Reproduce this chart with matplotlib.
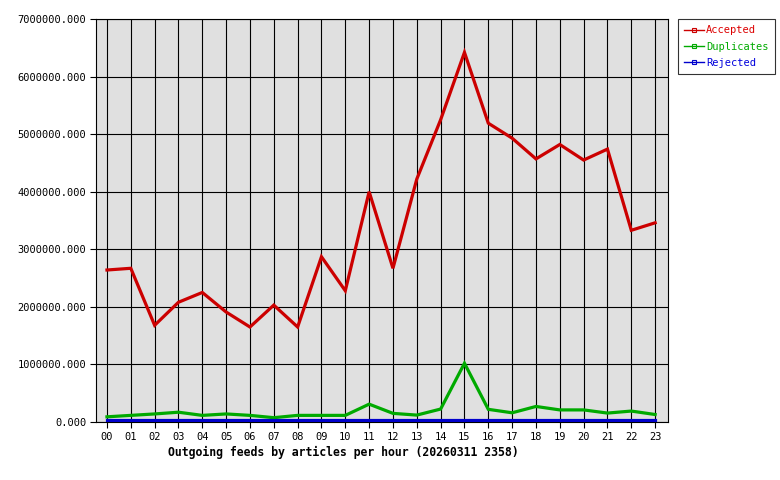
import matplotlib
matplotlib.use("Agg")
import matplotlib.pyplot as plt
from matplotlib.lines import Line2D
from matplotlib.ticker import FormatStrFormatter

hours = ["00", "01", "02", "03", "04", "05", "06", "07", "08", "09", "10", "11",
         "12", "13", "14", "15", "16", "17", "18", "19", "20", "21", "22", "23"]
accepted = [2.64e6, 2.67e6, 1.68e6, 2.08e6, 2.25e6, 1.91e6, 1.65e6, 2.03e6,
            1.65e6, 2.87e6, 2.28e6, 4.00e6, 2.67e6, 4.22e6, 5.25e6, 6.42e6,
            5.19e6, 4.93e6, 4.57e6, 4.82e6, 4.55e6, 4.74e6, 3.33e6, 3.46e6]
duplicates = [0.09e6, 0.115e6, 0.14e6, 0.17e6, 0.115e6, 0.14e6, 0.115e6, 0.075e6,
              0.115e6, 0.115e6, 0.115e6, 0.31e6, 0.15e6, 0.12e6, 0.225e6, 1.02e6,
              0.22e6, 0.16e6, 0.27e6, 0.21e6, 0.21e6, 0.155e6, 0.19e6, 0.13e6]
rejected = [0.03e6] * 24

series = [("Accepted", accepted, "#cc0000", "#dd0000"),
          ("Duplicates", duplicates, "#00aa00", "#00aa00"),
          ("Rejected", rejected, "#0000cc", "#0000dd")]

plt.rcParams["font.family"] = "DejaVu Sans Mono"

fig = plt.figure(figsize=(7.8, 4.8), dpi=100)
ax = fig.add_axes([96 / 780, 1 - 422 / 480, 572 / 780, 403 / 480])
ax.set_facecolor("#e0e0e0")

x = list(range(len(hours)))
for name, vals, col, _ in series:
    ax.plot(x, vals, color=col, lw=2.3, zorder=3, solid_joinstyle="miter")

ax.set_xlim(-0.46, 23.54)
ax.set_ylim(0, 7e6)
ax.set_xticks(x)
ax.set_xticklabels(hours)
ax.set_yticks([i * 1e6 for i in range(8)])
ax.yaxis.set_major_formatter(FormatStrFormatter("%.3f"))
ax.grid(True, color="black", lw=0.8)
ax.set_axisbelow(True)
ax.tick_params(labelsize=7.5, length=4, width=0.8, color="black", pad=3)
for sp in ax.spines.values():
    sp.set_linewidth(0.8)

# the caption is centred on the image area left of the legend, not on the axes
fig.text(343 / 780, 1 - 452 / 480,
         "Outgoing feeds by articles per hour (20260311 2358)",
         fontsize=8.3, fontweight="bold", ha="center", va="center")

handles = [Line2D([0], [0], color=col, lw=1, marker="s", markersize=2.5,
                  markerfacecolor="none", markeredgecolor=col,
                  markeredgewidth=0.8)
           for _, _, col, _ in series]
leg = fig.legend(handles, [s[0] for s in series], loc="upper left",
                 bbox_to_anchor=(678 / 780, 1 - 19 / 480), fontsize=7.5,
                 frameon=True, fancybox=False, edgecolor="black",
                 handlelength=1.9, handletextpad=0.2, borderpad=0.6,
                 labelspacing=0.6, borderaxespad=0)
leg.get_frame().set_linewidth(0.8)
for txt, (_, _, _, tcol) in zip(leg.get_texts(), series):
    txt.set_color(tcol)

fig.savefig("out.png", dpi=100)
